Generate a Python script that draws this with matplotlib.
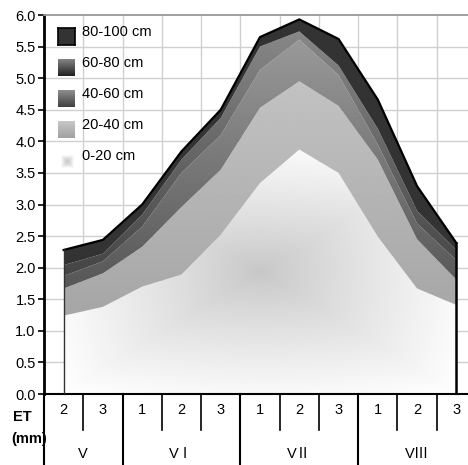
import numpy as np
import matplotlib
matplotlib.use('Agg')
from matplotlib import pyplot as plt
import matplotlib.transforms as mtransforms

plt.rcParams['font.family'] = ['Liberation Sans', 'Noto Sans CJK JP', 'DejaVu Sans']

# ten-day periods (decades) within each month
decades = ['2', '3', '1', '2', '3', '1', '2', '3', '1', '2', '3']
months = ['V', 'VⅠ', 'VⅡ', 'VⅢ']
month_len = [2, 3, 3, 3]
layer_names = ['0-20 cm', '20-40 cm', '40-60 cm', '60-80 cm', '80-100 cm']

# ET per soil layer, mm/day
et_0_20 = [1.24, 1.38, 1.70, 1.89, 2.52, 3.34, 3.87, 3.50, 2.49, 1.67, 1.41]
et_20_40 = [0.43, 0.53, 0.63, 1.07, 1.03, 1.19, 1.08, 1.06, 1.22, 0.78, 0.40]
et_40_60 = [0.20, 0.19, 0.32, 0.54, 0.55, 0.60, 0.66, 0.49, 0.24, 0.25, 0.31]
et_60_80 = [0.17, 0.12, 0.19, 0.21, 0.27, 0.37, 0.13, 0.15, 0.25, 0.20, 0.16]
et_80_100 = [0.24, 0.22, 0.16, 0.13, 0.13, 0.15, 0.19, 0.42, 0.46, 0.39, 0.11]

W, H = 468, 465
FS = 10.5
fig = plt.figure(figsize=(W / 100, H / 100), dpi=100)
# plot area runs past the right edge of the figure
ax = fig.add_axes([44 / W, 1 - 394 / H, 432 / W, 379 / H])

x = np.arange(len(decades))
layers = [et_0_20, et_20_40, et_40_60, et_60_80, et_80_100]
cum = np.cumsum(np.array(layers), axis=0)
lowers = [np.zeros(len(x))] + [cum[i] for i in range(len(layers) - 1)]


def clipped_image(lower, upper, img, extent):
    poly = ax.fill_between(x, lower, upper, facecolor='none', edgecolor='none')
    im = ax.imshow(img, extent=extent, origin='lower', aspect='auto', cmap='gray',
                   vmin=0, vmax=1, interpolation='bilinear', zorder=2)
    im.set_clip_path(poly.get_paths()[0], transform=ax.transData)


# 0-20 cm: grey centre fading out to white
u = np.linspace(-1, 1, 300)
uu, vv = np.meshgrid(u, u)
t = np.maximum(np.abs(uu), np.abs(vv)) * 0.6 + np.sqrt(uu ** 2 + vv ** 2) / np.sqrt(2) * 0.4
img0 = 0.78 + 0.22 * np.clip(t, 0, 1) ** 0.9
clipped_image(lowers[0], cum[0], img0, (x[0], x[-1], 0, cum[0].max()))

# other layers: vertical gradient, darker at the bottom
shades = [None, (0.65, 0.76), (0.34, 0.60), (0.27, 0.53), (0.20, 0.20)]
for i in range(1, len(layers)):
    lo, hi = lowers[i].min(), cum[i].max()
    img = np.linspace(shades[i][0], shades[i][1], 256)[:, None]
    clipped_image(lowers[i], cum[i], img, (x[0], x[-1], lo, hi))

total = cum[-1]
ax.plot(x, total, color='black', lw=1.6, zorder=4, solid_joinstyle='miter')
ax.plot([x[0], x[0]], [0, total[0]], color='#333333', lw=1.0, zorder=4)
ax.plot([x[-1], x[-1]], [0, total[-1]], color='black', lw=1.8, zorder=4)

ax.set_xlim(-0.5, len(x) - 0.5)
ax.set_ylim(0, 6)
ax.set_yticks(np.arange(0, 6.01, 0.5))
ax.set_yticklabels(['%.1f' % t for t in np.arange(0, 6.01, 0.5)])
ax.set_xticks([])
ax.tick_params(axis='y', direction='out', length=4, width=1.2, labelsize=FS,
               colors='black', pad=2)

# grid along category boundaries and every 0.5 mm
for b in np.arange(0.5, len(x) - 0.5, 1):
    ax.axvline(b, color='#d0d0d0', lw=1.0, zorder=0)
for g in np.arange(0.5, 6, 0.5):
    ax.axhline(g, color='#d0d0d0', lw=1.0, zorder=0)

ax.spines['right'].set_visible(False)
ax.spines['top'].set_color('#999999')
ax.spines['top'].set_linewidth(1.3)
ax.spines['left'].set_linewidth(2.0)
ax.spines['bottom'].set_linewidth(1.5)

# category table under the axis
trans = mtransforms.blended_transform_factory(ax.transData, ax.transAxes)
for i, d in enumerate(decades):
    ax.text(x[i], -0.042, d, transform=trans, ha='center', va='center', fontsize=FS)
for b in np.arange(-0.5, len(x) + 0.5, 1):
    ax.plot([b, b], [0, -0.095], transform=trans, color='black', lw=1.2, clip_on=False)
edges = np.concatenate([[0], np.cumsum(month_len)]) - 0.5
for i, m in enumerate(months):
    ax.text((edges[i] + edges[i + 1]) / 2, -0.158, m, transform=trans,
            ha='center', va='center', fontsize=FS,
            family=['Liberation Sans', 'Noto Sans CJK JP'])
for b in edges:
    ax.plot([b, b], [0, -0.25], transform=trans, color='black', lw=1.5, clip_on=False)

fig.text(13 / W, 1 - 417 / H, 'ET', fontsize=FS, fontweight='bold', va='center')
fig.text(11 / W, 1 - 439 / H, '(mm)', fontsize=FS, fontweight='bold', va='center')

# legend, top entry first
key_rows = [37, 68, 99, 130, 161]
key_shades = [(0.20, 0.20), (0.13, 0.52), (0.25, 0.56), (0.63, 0.78), None]
for row, name, shade in zip(key_rows, layer_names[::-1], key_shades):
    if shade is None:
        kx = fig.add_axes([61 / W, 1 - (row + 7) / H, 13 / W, 13 / H])
        img = 0.80 + 0.20 * np.clip(np.maximum(np.abs(uu), np.abs(vv)), 0, 1) ** 1.5
        kx.imshow(img, cmap='gray', vmin=0, vmax=1, aspect='auto', interpolation='bilinear')
        kx.axis('off')
    else:
        kx = fig.add_axes([58 / W, 1 - (row + 8.5) / H, 17 / W, 17 / H])
        img = np.linspace(shade[0], shade[1], 64)[:, None]
        kx.imshow(img, cmap='gray', vmin=0, vmax=1, aspect='auto', origin='lower')
        kx.set_xticks([])
        kx.set_yticks([])
        if name == '80-100 cm':
            for s in kx.spines.values():
                s.set_linewidth(1.2)
        else:
            for s in kx.spines.values():
                s.set_visible(False)
    fig.text(82 / W, 1 - (row - 5) / H, name, fontsize=FS, va='center')

fig.savefig('out.png', dpi=100)
